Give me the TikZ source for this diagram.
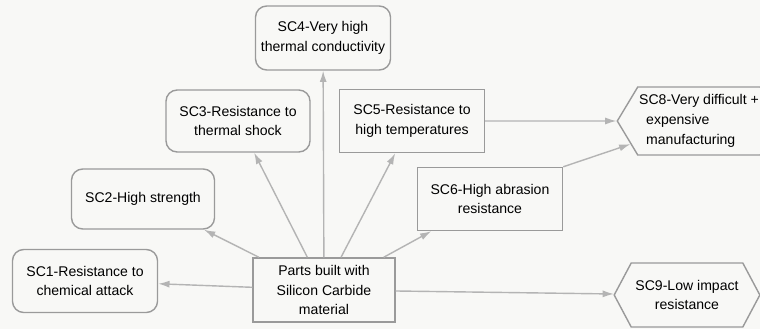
\documentclass[tikz,border=0pt]{standalone}
\usepackage{fontspec}
\setmainfont{Liberation Sans}
\usetikzlibrary{shapes.symbols, arrows.meta, positioning}
\definecolor{boxline}{HTML}{9A9A9A}
\definecolor{arrline}{HTML}{B4B4B4}
\definecolor{paper}{HTML}{F8F8F6}

\tikzset{
  cardbox/.style={draw=boxline, line width=1pt, fill=paper, rounded corners=8pt,
    align=center, inner sep=3pt, font=\fontsize{10}{14}\selectfont},
  flatbox/.style={draw=boxline, line width=1pt, fill=paper,
    align=center, inner sep=3pt, font=\fontsize{10}{14}\selectfont},
  hexbox/.style={signal, signal to=east and west, draw=boxline, line width=1pt, fill=paper,
    inner sep=3pt, font=\fontsize{10}{14}\selectfont},
  link/.style={draw=arrline, line width=1pt, -{Latex[length=8pt,width=5pt]}}
}

\begin{document}
\begin{tikzpicture}[x=0.025cm, y=-0.025cm]
    \fill[paper] (0,0) rectangle (760,329);
    \useasboundingbox (0,0) rectangle (760,329);

    % centre of the map
    \node[flatbox, minimum width=3.55cm, minimum height=1.6cm] (parts) at (324,290)
      {Parts built with\\Silicon Carbide\\material};

    % properties
    \node[cardbox, minimum width=3.625cm, minimum height=1.575cm] (sc1) at (85,281)
      {SC1-Resistance to\\chemical attack};
    \node[cardbox, minimum width=3.575cm, minimum height=1.5cm] (sc2) at (143,199)
      {SC2-High strength};
    \node[cardbox, minimum width=3.6cm, minimum height=1.55cm] (sc3) at (238,121)
      {SC3-Resistance to\\thermal shock};
    \node[cardbox, minimum width=3.375cm, minimum height=1.6cm] (sc4) at (323,38)
      {SC4-Very high\\thermal conductivity};
    \node[flatbox, minimum width=3.625cm, minimum height=1.575cm] (sc5) at (412,121)
      {SC5-Resistance to\\high temperatures};
    \node[flatbox, minimum width=3.625cm, minimum height=1.575cm] (sc6) at (490,199)
      {SC6-High abrasion\\resistance};

    % drawbacks
    \node[hexbox, align=left, inner sep=1pt, signal pointer angle=118,
          minimum height=1.7cm] (sc8) at (699,121)
      {SC8-Very difficult +\\\hspace{5pt}expensive\\\hspace{5pt}manufacturing};
    \node[hexbox, align=center, signal pointer angle=124,
          minimum width=3.5cm, minimum height=1.6cm] (sc9) at (687,295)
      {SC9-Low impact\\resistance};

    \draw[link] (parts) -- (sc1);
    \draw[link] (parts) -- (sc2);
    \draw[link] (parts) -- (sc3);
    \draw[link] (parts) -- (sc4);
    \draw[link] (parts) -- (sc5);
    \draw[link] (parts) -- (sc6);
    \draw[link] (parts) -- (sc9);
    \draw[link] (sc5) -- (sc8);
    \draw[link] (sc6.north east) -- (sc8);
  \end{tikzpicture}
\end{document}
